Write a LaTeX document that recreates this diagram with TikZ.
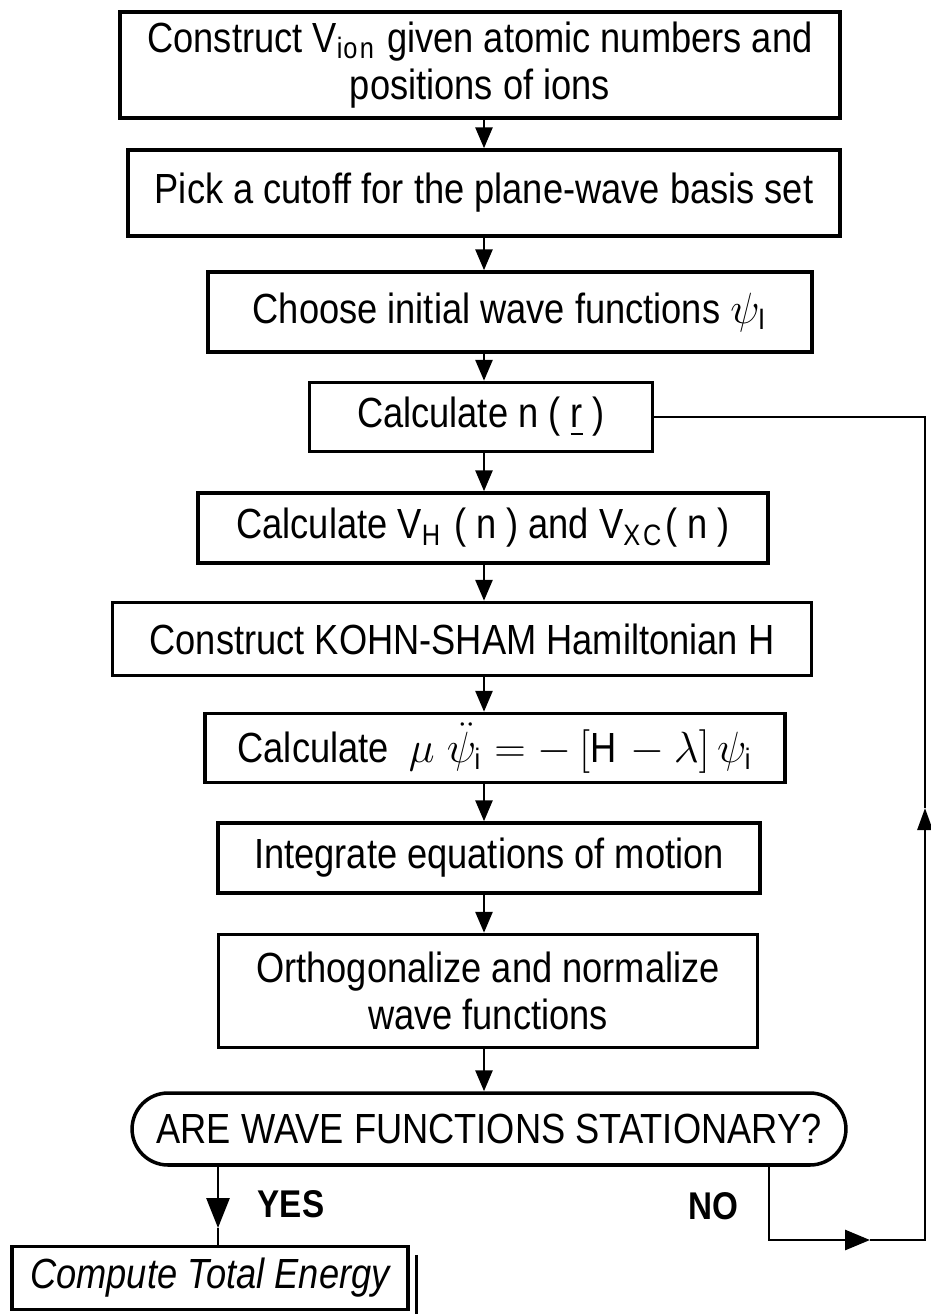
\documentclass[tikz,border=0pt]{standalone}
\usepackage{fontspec}
\setmainfont{Liberation Sans}[FakeStretch=0.86]
\usepackage{amsmath}
\usetikzlibrary{arrows.meta,positioning}

\begin{document}
\begin{tikzpicture}[x=0.02cm,y=-0.02cm,
  box/.style={draw,line width=2pt,inner sep=2pt,align=center,font=\fontsize{24}{27}\selectfont},
  flow/.style={line width=1.6pt},
  arr/.style={flow,-{Triangle[length=0.42cm,width=0.34cm]}},
  answer/.style={font=\fontsize{22}{25}\selectfont\bfseries}]
\useasboundingbox (0,0) rectangle (930,1314);
\node[box,minimum width=14.4cm,minimum height=2.12cm] (ions) at (480,65) {Construct V$_{\mathrm{ion}}$ given atomic numbers and\\positions of ions};
\node[box,minimum width=14.24cm,minimum height=1.72cm] (cutoff) at (484,193) {Pick a cutoff for the plane-wave basis set};
\node[box,minimum width=12.08cm,minimum height=1.6cm] (init) at (510,312) {Choose initial wave functions $\psi_{\mathrm{I}}$};
\node[box,minimum width=6.86cm,minimum height=1.38cm] (dens) at (481,417) {Calculate n ( \underline{r} )};
\node[box,minimum width=11.4cm,minimum height=1.4cm] (pot) at (483,528) {Calculate V$_{\mathrm{H}}$ ( n ) and V$_{\mathrm{XC}}$( n )};
\node[box,minimum width=13.98cm,minimum height=1.46cm] (ham) at (462,639) {Construct KOHN-SHAM Hamiltonian H};
\node[box,minimum width=11.6cm,minimum height=1.38cm] (eqm) at (495,748) {Calculate\ \ $\mu\;\ddot{\psi}_{\mathrm{i}} = -\,[\mathrm{H}-\lambda]\,\psi_{\mathrm{i}}$};
\node[box,minimum width=10.84cm,minimum height=1.4cm] (integ) at (489,858) {Integrate equations of motion};
\node[box,minimum width=10.78cm,minimum height=2.26cm] (ortho) at (488,991) {Orthogonalize and normalize\\wave functions};
\node[box,rounded corners=0.72cm,minimum width=14.28cm,minimum height=1.44cm] (stat) at (489,1129) {ARE WAVE FUNCTIONS STATIONARY?};
\node[box,minimum width=7.92cm,minimum height=1.26cm] (energy) at (210,1278) {\itshape Compute Total Energy};
\draw[flow] ([xshift=0.14cm,yshift=-0.2cm]energy.north east) -- ([xshift=0.14cm,yshift=-0.1cm]energy.south east);

\coordinate (spine) at (484,0);
\draw[arr] (ions.south -| spine) -- (cutoff.north -| spine);
\draw[arr] (cutoff.south -| spine) -- (init.north -| spine);
\draw[arr] (init.south -| spine) -- (dens.north -| spine);
\draw[arr] (dens.south -| spine) -- (pot.north -| spine);
\draw[arr] (pot.south -| spine) -- (ham.north -| spine);
\draw[arr] (ham.south -| spine) -- (eqm.north -| spine);
\draw[arr] (eqm.south -| spine) -- (integ.north -| spine);
\draw[arr] (integ.south -| spine) -- (ortho.north -| spine);
\draw[arr] (ortho.south -| spine) -- (stat.north -| spine);

\coordinate (yesx) at (218,0);
\coordinate (yestip) at (218,1228);
\draw[flow,-{Triangle[length=0.6cm,width=0.46cm]}] (stat.south -| yesx) -- (yestip);
\draw[flow] (yestip) -- (energy.north -| yesx);
\node[answer] (yes) at (291,1204) {YES};

\coordinate (nox) at (769,0);
\coordinate (loopx) at (925,0);
\coordinate (nocorner) at (769,1240);
\coordinate (notip) at (870,1240);
\coordinate (lowright) at (925,1240);
\coordinate (uptip) at (925,808);
\draw[flow,-{Triangle[length=0.5cm,width=0.4cm]}] (stat.south -| nox) -- (nocorner) -- (notip);
\draw[flow,-{Triangle[length=0.44cm,width=0.3cm]}] (notip) -- (lowright) -- (uptip);
\draw[flow] (uptip) -- (dens.east -| loopx) -- (dens.east);
\node[answer] (no) at (713,1206) {NO};
\end{tikzpicture}
\end{document}
